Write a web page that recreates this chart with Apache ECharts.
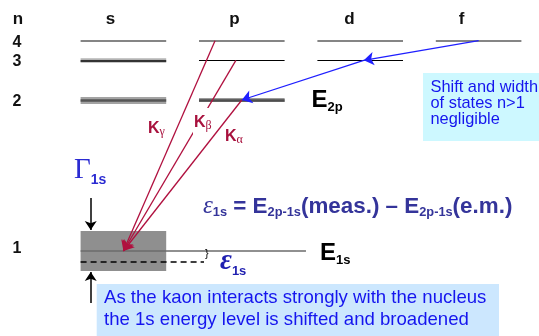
<!DOCTYPE html>
<html>
<head>
<meta charset="utf-8">
<script src="https://cdn.jsdelivr.net/npm/echarts@6/dist/echarts.min.js"></script>
<style>
  html, body { margin: 0; padding: 0; background: #fff; }
  #chart { width: 539px; height: 336px; }
</style>
</head>
<body>
<div id="chart"></div>
<script>
// Kaonic-atom level scheme: orbital columns on x, diagram energy rows on y (downwards)
const orbitals = ['s', 'p', 'd', 'f'];
const shells = [1, 2, 3, 4];
const shellLevel = [251, 100, 60.3, 40.7];          // row of each shell n = 1..4
const drawnLevels = [                               // [n, orbital index]
  [4, 0], [4, 1], [4, 2], [4, 3],
  [3, 0], [3, 1], [3, 2],
  [2, 0], [2, 1]
];
const kLines = [                                    // [label, upper n, start on orbital scale]
  ['α', 2, 1.0],
  ['β', 3, 0.95],
  ['γ', 4, 0.774]
];
const cascade = [[4, 3.0], [3, 2.03], [2, 1.0]];    // f → d → p, [n, orbital position]
const width1s = 40;                                 // Γ1s, full width of the 1s band
const shift1s = 10.7;                               // ε1s, shift of the 1s level

const HALF = 0.3615;        // half length of a level bar on the orbital scale
const EM_END = 1.542;       // right end of the e.m. 1s line
const SHIFT_END = 0.681;    // right end of the dashed shifted level
const GAMMA_X = -0.276;     // position of the Γ arrows

const lvl = n => shellLevel[n - 1];
const E1 = lvl(1);

// bar styles per level: [halo, core]
function levelStyle(n, o) {
  if (n === 4) return [null, { color: '#5c5c5c', width: 1.5 }];
  if (n === 3) return o === 0 ? [{ color: '#b4b4b4', width: 4.5 }, { color: '#333', width: 2 }]
                              : [null, { color: '#000', width: 1 }];
  return o === 0 ? [{ color: '#a3a3a3', width: 7 }, { color: '#555', width: 2.5 }]
                 : [{ color: '#9a9a9a', width: 4 }, { color: '#4e4e4e', width: 2.5 }];
}

const haloData = [], coreData = [];
drawnLevels.forEach(([n, o]) => {
  const [halo, core] = levelStyle(n, o);
  const coords = [[o - HALF, lvl(n)], [o + HALF, lvl(n)]];
  if (halo) haloData.push({ coords, lineStyle: Object.assign({ opacity: 1 }, halo) });
  coreData.push({ coords, lineStyle: Object.assign({ opacity: 1 }, core) });
});
coreData.push({ coords: [[-HALF, E1], [EM_END, E1]], lineStyle: { color: '#6b6b6b', width: 1.5, opacity: 1 } });

const redData = kLines.map(([, n, x0]) => ({ coords: [[x0, lvl(n)], [0, E1]] }));
const blueData = [];
for (let i = 0; i < cascade.length - 1; i++) {
  blueData.push({ coords: [[cascade[i][1], lvl(cascade[i][0])], [cascade[i + 1][1], lvl(cascade[i + 1][0])]] });
}
const gammaData = [
  { coords: [[GAMMA_X, 198], [GAMMA_X, E1 - width1s / 2 - 1]] },
  { coords: [[GAMMA_X, 303], [GAMMA_X, E1 + width1s / 2 + 1]] }
];

const SANS = "'Liberation Sans', Arial, sans-serif";
const SERIF = "'Liberation Serif', 'Times New Roman', serif";
const RED = '#a8113d';
const BLUE_TXT = '#1515ee';
const FORM = '#34349a';

function txt(x, y, text, style) {
  return { type: 'text', x, y, z: 101, silent: true,
           style: Object.assign({ text, align: 'left', verticalAlign: 'top', fontFamily: SANS }, style) };
}
function sub(size, pad, extra) {
  return Object.assign({ fontFamily: SANS, fontWeight: 'bold', fontSize: size, verticalAlign: 'top',
                         padding: [pad, 0, 0, 0] }, extra);
}
function kLabel(x, y, greek) {
  return txt(x, y, '{k|K}{s|' + greek + '}', {
    rich: { k: { fontFamily: SANS, fontWeight: 'bold', fontSize: 16, fill: RED },
            s: { fontFamily: SERIF, fontSize: 12, fill: RED, padding: [6.5, 0, 0, 0] } } });
}

const chart = echarts.init(document.getElementById('chart'), null, { renderer: 'canvas' });

const graphics = [
  // column and row headers
  txt(18, 19, 'n', { align: 'center', verticalAlign: 'middle', fontWeight: 'bold', fontSize: 17, fill: '#111' }),
  ...orbitals.map((o, i) => txt([110.5, 234.5, 349.5, 461.5][i], 19, o,
      { align: 'center', verticalAlign: 'middle', fontWeight: 'bold', fontSize: 17, fill: '#111' })),
  ...shells.map(n => txt(17, lvl(n) + (n === 1 ? -2 : 1.5), String(n),
      { align: 'center', verticalAlign: 'middle', fontWeight: 'bold', fontSize: 16, fill: '#111' })),

  // mask that interrupts the Kβ line behind its label
  { type: 'rect', z: 100, silent: true, shape: { x: 193, y: 108, width: 17, height: 27 }, style: { fill: '#fff' } },

  // K-line labels
  kLabel(148, 119.5, 'γ'),
  kLabel(194, 113.2, 'β'),
  kLabel(225, 127.2, 'α'),

  // level names
  txt(311.6, 86.3, '{e|E}{s|2p}', { rich: { e: { fontFamily: SANS, fontWeight: 'bold', fontSize: 24, fill: '#000' },
                                             s: sub(13, 14.3, { fill: '#000' }) } }),
  txt(320, 238.9, '{e|E}{s|1s}', { rich: { e: { fontFamily: SANS, fontWeight: 'bold', fontSize: 24, fill: '#000' },
                                            s: sub(13, 15, { fill: '#000' }) } }),

  // width and shift symbols
  txt(74, 153.9, '{g|Γ}{s|1s}', { rich: { g: { fontFamily: SERIF, fontSize: 29, fill: '#2b2bd2' },
                                          s: sub(14, 19.2, { fill: '#2b2bd2' }) } }),
  txt(220, 245.6, '{g|ε}{s|1s}', { rich: { g: { fontFamily: SERIF, fontStyle: 'italic', fontWeight: 'bold', fontSize: 29, fill: '#1f1fb0' },
                                           s: sub(13, 19.3, { fill: '#1f1fb0' }) } }),
  { type: 'text', x: 205, y: 248.5, z: 101, silent: true,
    style: { text: '}', fontFamily: SANS, fontSize: 11, fill: '#000', align: 'left', verticalAlign: 'top' } },

  // definition of the shift
  txt(203, 192.7, '{g|ε}{s|1s}{m| = E}{s|2p-1s}{m|(meas.) – E}{s|2p-1s}{m|(e.m.)}', {
    rich: {
      g: { fontFamily: SERIF, fontStyle: 'italic', fontSize: 25, fill: FORM },
      m: { fontFamily: SANS, fontWeight: 'bold', fontSize: 22.4, fill: FORM, padding: [2.2, 0, 0, 0] },
      s: sub(12.8, 13.5, { fill: FORM })
    }
  }),

  // note boxes
  { type: 'rect', z: 99, silent: true, shape: { x: 423, y: 73, width: 120, height: 68 }, style: { fill: '#cdf8ff' } },
  txt(430.5, 79.6, 'Shift and width\nof states n>1\nnegligible', { fontSize: 16.4, lineHeight: 16, fill: BLUE_TXT }),
  { type: 'rect', z: 99, silent: true, shape: { x: 96.7, y: 284, width: 402.3, height: 52 }, style: { fill: '#cce7fe' } },
  txt(104, 286.6, 'As the kaon interacts strongly with the nucleus\nthe 1s energy level is shifted and broadened',
      { fontSize: 18.6, lineHeight: 22.4, fill: BLUE_TXT })
];

chart.setOption({
  animation: false,
  backgroundColor: '#fff',
  grid: { left: 0, right: 0, top: 0, bottom: 0 },
  xAxis: { type: 'value', min: -1.0422, max: 3.5101, show: false },
  yAxis: { type: 'value', min: 0, max: 336, inverse: true, show: false },
  series: [
    {
      // broadened 1s level
      type: 'custom', z: 1, silent: true, clip: false,
      renderItem: (params, api) => {
        const a = api.coord([api.value(0), api.value(1)]);
        const b = api.coord([api.value(2), api.value(3)]);
        return { type: 'rect', shape: { x: a[0], y: a[1], width: b[0] - a[0], height: b[1] - a[1] },
                 style: { fill: '#8f8f8f' } };
      },
      data: [[-HALF, E1 - width1s / 2, HALF, E1 + width1s / 2]]
    },
    { type: 'lines', coordinateSystem: 'cartesian2d', z: 2, silent: true, data: haloData },
    { type: 'lines', coordinateSystem: 'cartesian2d', z: 3, silent: true, data: coreData },
    {
      // shifted 1s level
      type: 'lines', coordinateSystem: 'cartesian2d', z: 3, silent: true,
      lineStyle: { color: '#000', width: 1.5, type: [6, 4], opacity: 1 },
      data: [{ coords: [[-HALF, E1 + shift1s], [SHIFT_END, E1 + shift1s]] }]
    },
    {
      type: 'lines', coordinateSystem: 'cartesian2d', z: 4, silent: true,
      symbol: ['none', 'arrow'], symbolSize: [5, 9],
      lineStyle: { color: '#000', width: 1.5, opacity: 1 }, data: gammaData
    },
    {
      type: 'lines', coordinateSystem: 'cartesian2d', z: 5, silent: true,
      symbol: ['none', 'arrow'], symbolSize: [6, 10],
      lineStyle: { color: '#b0103f', width: 1.3, opacity: 1 }, data: redData
    },
    {
      type: 'lines', coordinateSystem: 'cartesian2d', z: 5, silent: true,
      symbol: ['none', 'arrow'], symbolSize: [6, 10],
      lineStyle: { color: '#1f1fff', width: 1.3, opacity: 1 }, data: blueData
    }
  ],
  graphic: graphics
});
</script>
</body>
</html>
